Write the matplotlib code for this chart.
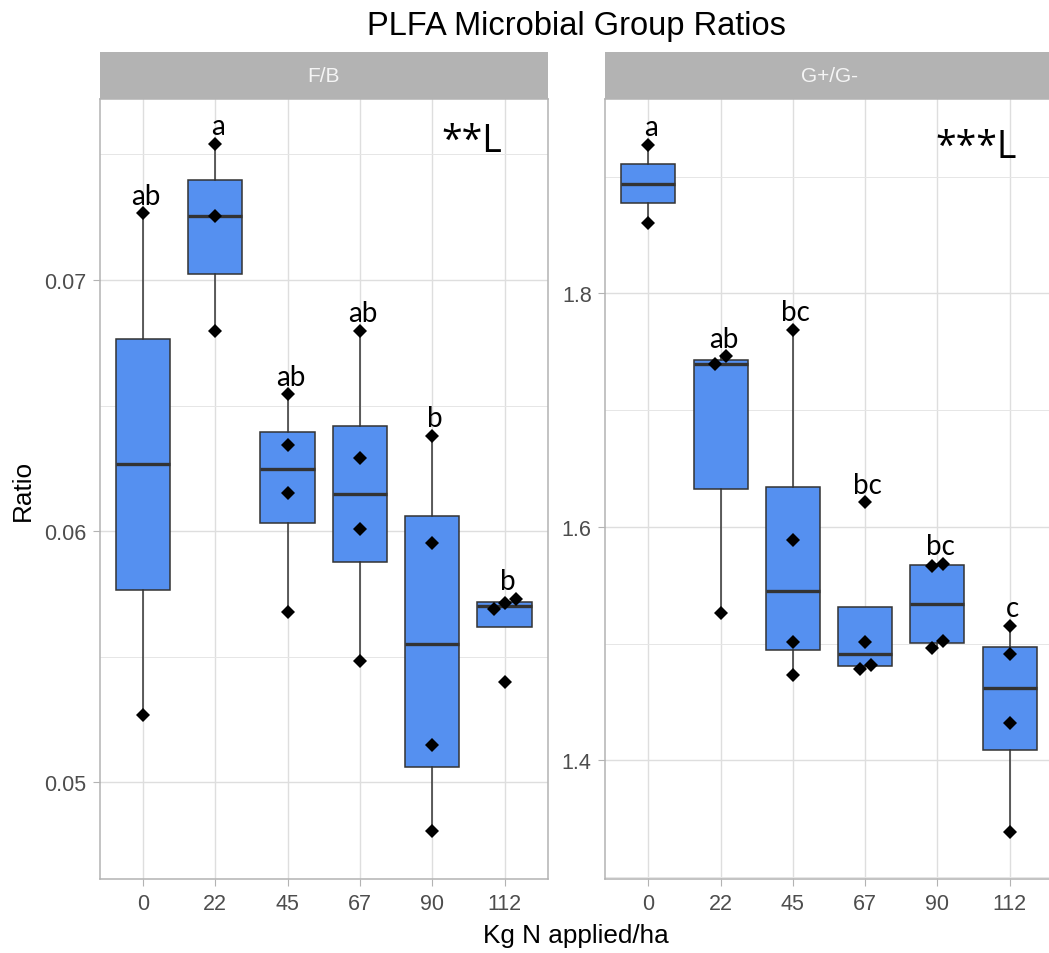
import numpy as np
import matplotlib
matplotlib.use("Agg")
import matplotlib.pyplot as plt
from matplotlib.patches import Rectangle
from matplotlib.ticker import MultipleLocator

plt.rcParams['font.family'] = ['Liberation Sans', 'DejaVu Sans']

# ---- data ----
doses = ["0", "22", "45", "67", "90", "112"]
facet_titles = ["F/B", "G+/G-"]

fb_ratio = [
    [0.07266, 0.05267],
    [0.07541, 0.07253, 0.06797],
    [0.06545, 0.06343, 0.06150, 0.05677],
    [0.06797, 0.06290, 0.06007, 0.05482],
    [0.06379, 0.05954, 0.05147, 0.04805],
    [0.05730, 0.05715, 0.05690, 0.05400],
]
gg_ratio = [
    [1.9273, 1.8602],
    [1.7460, 1.7390, 1.5264],
    [1.7688, 1.5889, 1.5010, 1.4733],
    [1.6210, 1.5010, 1.4815, 1.4780],
    [1.5681, 1.5665, 1.5020, 1.4959],
    [1.5153, 1.4910, 1.4320, 1.3388],
]
fb_letters = ["ab", "a", "ab", "ab", "b", "b"]
gg_letters = ["a", "ab", "bc", "bc", "bc", "c"]
trend_labels = ["**L", "***L"]

W, H = 1049, 954
fig = plt.figure(figsize=(W / 100, H / 100), dpi=100)

box_fill = "#5590F0"
dark = "#333333"
letter_font = ['Lato', 'DejaVu Sans']
trend_font = ['Open Sans', 'DejaVu Sans']


def swarm_offsets(ax, vals, d_px=11.0):
    """spread points that sit on top of each other (beeswarm style)"""
    vals = np.asarray(vals)
    y_px = ax.transData.transform(np.column_stack([np.zeros(len(vals)), vals]))[:, 1]
    unit_px = ax.transData.transform([[1, 0]])[0, 0] - ax.transData.transform([[0, 0]])[0, 0]
    order = np.argsort(y_px)
    offs = np.zeros(len(vals))
    groups, cur = [], [order[0]]
    for k in order[1:]:
        if y_px[k] - y_px[cur[-1]] < d_px * 0.9:
            cur.append(k)
        else:
            groups.append(cur)
            cur = [k]
    groups.append(cur)
    for g in groups:
        n = len(g)
        for j, k in enumerate(g):
            offs[k] = (j - (n - 1) / 2) * d_px / unit_px
    return offs


def draw_panel(rect, data, letters, title, trend, ylim, major, minor, fmt, trend_pos):
    ax = fig.add_axes(rect)

    ax.boxplot(data, positions=range(len(data)), widths=0.75, patch_artist=True,
               showfliers=False, showcaps=False, whis=1.5,
               boxprops=dict(facecolor=box_fill, edgecolor=dark, linewidth=1.1),
               medianprops=dict(color=dark, linewidth=2.4),
               whiskerprops=dict(color=dark, linewidth=1.1))

    ax.set_xlim(-0.6, 5.6)
    ax.set_ylim(*ylim)
    ax.yaxis.set_major_locator(MultipleLocator(major))
    ax.yaxis.set_minor_locator(MultipleLocator(minor))
    ax.yaxis.set_major_formatter(plt.FuncFormatter(lambda v, p: fmt % v))
    ax.set_xticks(range(len(doses)))
    ax.set_xticklabels(doses)
    ax.set_axisbelow(True)
    ax.grid(which='major', color='#DEDEDE', linewidth=1.0)
    ax.grid(which='minor', axis='y', color='#E6E6E6', linewidth=0.7)
    for s in ax.spines.values():
        s.set_color('#B3B3B3')
        s.set_linewidth(1.1)
    ax.tick_params(which='major', color='#B3B3B3', length=5.3, width=0.8,
                   labelcolor='#4D4D4D', labelsize=15.5)
    ax.tick_params(axis='y', pad=4.3)
    ax.tick_params(axis='x', pad=5)
    ax.tick_params(which='minor', length=0)

    for i, vals in enumerate(data):
        offs = swarm_offsets(ax, vals)
        ax.plot(i + offs, vals, 'D', color='black', markersize=7.5,
                markeredgewidth=0, zorder=5)
        ax.annotate(letters[i], xy=(i, max(vals)), xytext=(2, 7),
                    textcoords='offset points', ha='center', va='baseline',
                    fontsize=20, family=letter_font, color='black', zorder=6)

    ax.text(trend_pos[0], trend_pos[1], trend, transform=ax.transAxes,
            ha='right', va='baseline', fontsize=27, family=trend_font)

    # facet strip
    strip_h = 47 / 780
    ax.add_patch(Rectangle((0, 1), 1, strip_h, transform=ax.transAxes,
                           facecolor='#B3B3B3', edgecolor='none', clip_on=False))
    ax.text(0.5, 1 + strip_h / 2, title, transform=ax.transAxes, ha='center',
            va='center', color='#F5F5F5', fontsize=15)
    return ax


bottom = (H - 880) / H
height = 780 / H
draw_panel([99.5 / W, bottom, 448.5 / W, height], fb_ratio, fb_letters,
           facet_titles[0], trend_labels[0], (0.04614, 0.07721), 0.01, 0.005,
           "%.2f", (0.897, 0.9337))
draw_panel([605 / W, bottom, 448 / W, height], gg_ratio, gg_letters,
           facet_titles[1], trend_labels[1], (1.2983, 1.9664), 0.2, 0.1,
           "%.1f", (0.920, 0.9253))

fig.text(576.5 / W, 1 - 35 / H, "PLFA Microbial Group Ratios", ha='center',
         va='baseline', fontsize=23.5)
fig.text(576 / W, 1 - 943 / H, "Kg N applied/ha", ha='center', va='baseline',
         fontsize=18.8)
fig.text(23 / W, 1 - 490 / H, "Ratio", ha='center', va='center', rotation=90,
         fontsize=18.8)

fig.savefig("out.png", dpi=100)
